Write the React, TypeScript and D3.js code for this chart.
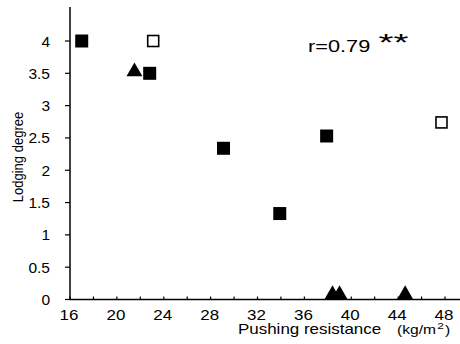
import React from "react";
import * as d3 from "d3";

const filledSquares: [number, number][] = [
  [17.0, 4.0],
  [22.8, 3.5],
  [29.1, 2.34],
  [33.9, 1.33],
  [37.9, 2.53],
];
const openSquares: [number, number][] = [
  [23.1, 4.0],
  [47.7, 2.74],
];
const triangles: [number, number][] = [
  [21.5, 3.55],
  [38.4, 0.1],
  [39.0, 0.1],
  [44.6, 0.1],
];
const xTicksMajor = [16, 20, 24, 28, 32, 36, 40, 44, 48];
const xTicksMinor = d3.range(16, 50, 2);
const yTicks = [0, 0.5, 1, 1.5, 2, 2.5, 3, 3.5, 4];
const yTickLabels = ["0", "0.5", "1", "1.5", "2", "2.5", "3", "3.5", "4"];

const FONT = "'Liberation Sans', Arial, Helvetica, sans-serif";

export default function App() {
  const W = 460;
  const H = 344;
  const x = d3.scaleLinear().domain([16, 48]).range([70, 445]);
  const y = d3.scaleLinear().domain([0, 4]).range([299.5, 41]);
  const xEnd = 460;
  const yTop = 7;
  const sq = 13;
  const osq = 11;
  const tri = d3.symbol().type(d3.symbolTriangle).size(110)();

  return (
    <svg
      width={W}
      height={H}
      style={{ position: "absolute", left: 0, top: 0, background: "#fff" }}
      fontFamily={FONT}
    >
      {/* axes */}
      <line x1={x(16)} x2={x(16)} y1={yTop} y2={y(0)} stroke="#000" strokeWidth={1.5} />
      <line x1={x(16)} x2={xEnd} y1={y(0)} y2={y(0)} stroke="#000" strokeWidth={1.5} />
      {yTicks.map((t, i) => (
        <g key={"y" + t}>
          <line x1={x(16) - 5} x2={x(16)} y1={y(t)} y2={y(t)} stroke="#000" strokeWidth={1.2} />
          <text x={50} y={y(t) + 5.5} fontSize={15.5} textAnchor="end" fill="#000">
            {yTickLabels[i]}
          </text>
        </g>
      ))}
      {xTicksMinor.map((t) => (
        <line key={"xm" + t} x1={x(t)} x2={x(t)} y1={y(0)} y2={y(0) - 3} stroke="#000" strokeWidth={1.2} />
      ))}
      {xTicksMajor.map((t) => (
        <text
          key={"x" + t}
          transform={`translate(${x(t) - 1},320) scale(1.13,1)`}
          fontSize={15}
          textAnchor="middle"
          fill="#000"
        >
          {t}
        </text>
      ))}
      <text transform="translate(238,334) scale(1.13,1)" fontSize={15} fill="#000">
        Pushing resistance
      </text>
      <text transform="translate(397,333.5) scale(1.25,1)" fontSize={12.5} fill="#000">
        <tspan>(kg/m</tspan>
        <tspan dx={1} dy={-5} fontSize={9.5}>2</tspan>
        <tspan dx={1} dy={5}>)</tspan>
      </text>
      <text
        transform={`translate(22.5,157) rotate(-90) scale(0.9,1)`}
        fontSize={14.5}
        textAnchor="middle"
        fill="#000"
      >
        Lodging degree
      </text>
      <text transform="translate(308,52.3) scale(1.28,1)" fontSize={17} fill="#000">
        r=0.79
      </text>
      <text x={378.5} y={51} fontSize={24} textLength={30} lengthAdjust="spacingAndGlyphs" fill="#000">
        **
      </text>

      {/* markers */}
      {filledSquares.map(([a, b], i) => (
        <rect key={"f" + i} x={x(a) - sq / 2} y={y(b) - sq / 2} width={sq} height={sq} fill="#000" />
      ))}
      {openSquares.map(([a, b], i) => (
        <rect
          key={"o" + i}
          x={x(a) - osq / 2}
          y={y(b) - osq / 2}
          width={osq}
          height={osq}
          fill="#fff"
          stroke="#000"
          strokeWidth={1.6}
        />
      ))}
      {triangles.map(([a, b], i) => (
        <path key={"t" + i} d={tri || ""} transform={`translate(${x(a)},${y(b) + 1.5})`} fill="#000" />
      ))}
    </svg>
  );
}
